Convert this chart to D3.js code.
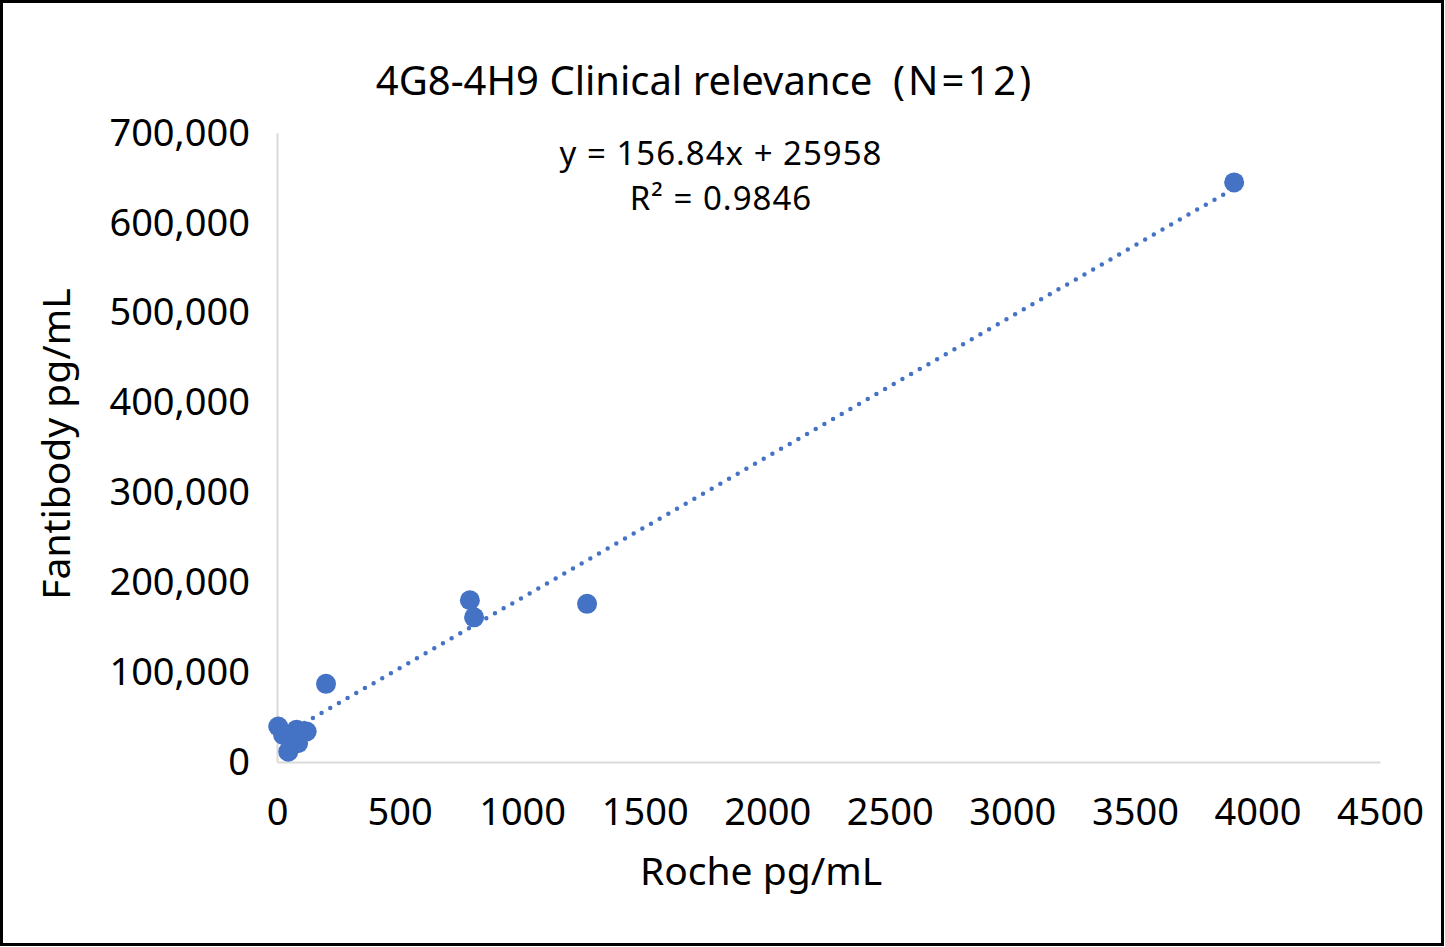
<!DOCTYPE html>
<html>
<head>
<meta charset="utf-8">
<script src="https://cdn.jsdelivr.net/npm/d3@7"></script>
<style>
  body { margin: 0; background: #fff; }
  svg { display: block; font-family: "Noto Sans", "Open Sans", sans-serif; }
</style>
</head>
<body>
<svg id="chart" width="1445" height="947"></svg>
<script>
// data
const rocheValues = [3905, 1265, 787, 804, 200, 5, 25, 46, 86, 121, 80, 60];
const fantibodyValues = [645000, 176000, 180000, 161000, 87000, 39500, 30000, 11500, 21000, 34000, 36000, 27000];
const xTicks = [0, 500, 1000, 1500, 2000, 2500, 3000, 3500, 4000, 4500];
const yTicks = [0, 100000, 200000, 300000, 400000, 500000, 600000, 700000];
const trendSlope = 156.84;
const trendIntercept = 25958;
const equationLines = ["y = 156.84x + 25958", "R² = 0.9846"];

const points = rocheValues.map((x, i) => ({ x: x, y: fantibodyValues[i] }));

const svg = d3.select('#chart');
const blue = '#4472C4';

// outer border
svg.append('rect')
    .attr('x', 1.5).attr('y', 1.5)
    .attr('width', 1441).attr('height', 943)
    .attr('fill', '#fff')
    .attr('stroke', '#000')
    .attr('stroke-width', 3);

const xScale = d3.scaleLinear().domain([0, 4500]).range([277, 1380]);
const yScale = d3.scaleLinear().domain([0, 700000]).range([762, 133]);

// axes
const xAxis = svg.append('g')
    .attr('transform', `translate(0,${yScale(0)})`)
    .call(d3.axisBottom(xScale).tickValues(xTicks).tickSize(0).tickPadding(36).tickFormat(d3.format('d')));

const yAxis = svg.append('g')
    .attr('transform', `translate(${xScale(0)},0)`)
    .call(d3.axisLeft(yScale).tickValues(yTicks).tickSize(0).tickPadding(27).tickFormat(d3.format(',')));

[xAxis, yAxis].forEach(g => {
    g.select('.domain').attr('stroke', '#d9d9d9').attr('stroke-width', 2);
    g.selectAll('text')
        .attr('fill', '#000')
        .style('font-size', '38px')
        .style('font-family', '"Noto Sans", sans-serif');
});

// trendline over the data range
const xExtent = d3.extent(rocheValues);
svg.append('line')
    .attr('x1', xScale(xExtent[0]))
    .attr('y1', yScale(trendSlope * xExtent[0] + trendIntercept))
    .attr('x2', xScale(xExtent[1]))
    .attr('y2', yScale(trendSlope * xExtent[1] + trendIntercept))
    .attr('stroke', blue)
    .attr('stroke-width', 4.5)
    .attr('stroke-linecap', 'round')
    .attr('stroke-dasharray', '0 10');

// points
svg.append('g')
    .selectAll('circle')
    .data(points)
    .join('circle')
    .attr('cx', d => xScale(d.x))
    .attr('cy', d => yScale(d.y))
    .attr('r', 10)
    .attr('fill', blue);

// title
const title = svg.append('text')
    .attr('x', 705).attr('y', 95)
    .attr('text-anchor', 'middle')
    .style('font-size', '40px')
    .style('white-space', 'pre');
title.append('tspan').text('4G8-4H9 Clinical relevance  ');
title.append('tspan').style('letter-spacing', '3px').text('(N=12)');

// equation label
svg.append('g')
    .selectAll('text')
    .data(equationLines)
    .join('text')
    .attr('x', 721)
    .attr('y', (d, i) => 165 + i * 45)
    .attr('text-anchor', 'middle')
    .style('font-size', '33px')
    .style('letter-spacing', '1px')
    .text(d => d);

// axis titles
svg.append('text')
    .attr('x', 761).attr('y', 885)
    .attr('text-anchor', 'middle')
    .style('font-size', '39px')
    .text('Roche pg/mL');

svg.append('text')
    .attr('transform', 'translate(70,444) rotate(-90)')
    .attr('text-anchor', 'middle')
    .style('font-size', '39px')
    .text('Fantibody pg/mL');
</script>
</body>
</html>
